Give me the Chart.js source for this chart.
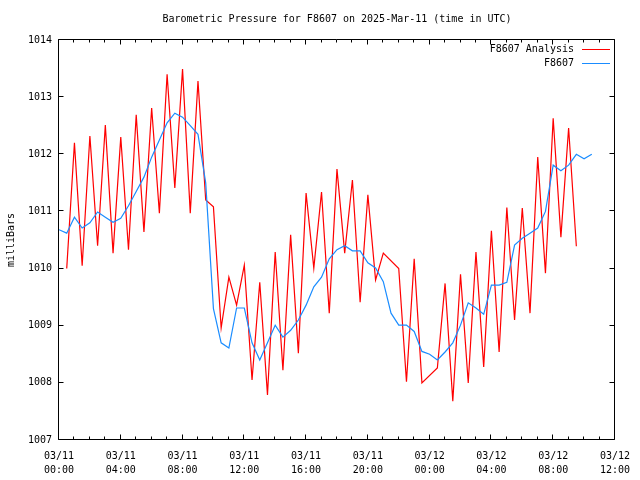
<!DOCTYPE html>
<html>
<head>
<meta charset="utf-8">
<script src="https://cdn.jsdelivr.net/npm/chart.js@4"></script>
<style>
html,body{margin:0;padding:0;background:#fff;}
#wrap{width:640px;height:480px;}
</style>
</head>
<body>
<div id="wrap"><canvas id="c" width="640" height="480"></canvas></div>
<script>
// Hours since 2025-03-11 00:00 UTC
const analysisTimes = [0.5,1,1.5,2,2.5,3,3.5,4,4.5,5,5.5,6,6.5,7,7.5,8,8.5,9,9.5,10,10.5,11,11.5,12,12.5,13,13.5,14,14.5,15,15.5,16,16.5,17,17.5,18,18.5,19,19.5,20,20.5,21,22,22.5,23,23.5,24.5,25,25.5,26,26.5,27,27.5,28,28.5,29,29.5,30,30.5,31,31.5,32,32.5,33,33.5];
const analysisValues = [1010.0,1012.2,1010.05,1012.32,1010.4,1012.51,1010.27,1012.3,1010.33,1012.69,1010.64,1012.81,1010.97,1013.40,1011.41,1013.49,1010.97,1013.28,1011.2,1011.08,1008.96,1009.85,1009.36,1010.06,1008.05,1009.76,1007.79,1010.29,1008.22,1010.59,1008.52,1011.32,1010.01,1011.34,1009.22,1011.74,1010.27,1011.55,1009.41,1011.29,1009.8,1010.27,1010.0,1008.02,1010.17,1008.0,1008.26,1009.74,1007.68,1009.9,1008.0,1010.29,1008.28,1010.66,1008.54,1011.07,1009.1,1011.06,1009.22,1011.95,1009.92,1012.63,1010.55,1012.46,1010.39];
const stationTimes = [0,0.5,1,1.5,2,2.5,3,3.5,4,4.5,5,5.5,6,6.5,7,7.5,8,8.5,9,9.5,10,10.5,11,11.5,12,12.5,13,13.5,14,14.5,15,15.5,16,16.5,17,17.5,18,18.5,19,19.5,20,20.5,21,21.5,22,22.5,23,23.5,24,24.5,25,25.5,26,26.5,27,27.5,28,28.5,29,29.5,30,30.5,31,31.5,32,32.5,33,33.5,34,34.5];
const stationValues = [1010.68,1010.62,1010.9,1010.71,1010.8,1010.99,1010.9,1010.81,1010.88,1011.1,1011.35,1011.6,1011.95,1012.25,1012.55,1012.72,1012.65,1012.5,1012.35,1011.5,1009.3,1008.7,1008.61,1009.31,1009.31,1008.7,1008.4,1008.7,1009.01,1008.8,1008.92,1009.1,1009.36,1009.68,1009.85,1010.17,1010.33,1010.4,1010.31,1010.31,1010.1,1010.01,1009.77,1009.22,1009.01,1009.01,1008.9,1008.55,1008.5,1008.4,1008.54,1008.7,1009.01,1009.4,1009.31,1009.2,1009.71,1009.71,1009.76,1010.41,1010.53,1010.62,1010.71,1011.0,1011.81,1011.71,1011.81,1012.0,1011.92,1012.0];
const xTickLabels = [["03/11","00:00"],["03/11","04:00"],["03/11","08:00"],["03/11","12:00"],["03/11","16:00"],["03/11","20:00"],["03/12","00:00"],["03/12","04:00"],["03/12","08:00"],["03/12","12:00"]];
const yTickValues = [1007,1008,1009,1010,1011,1012,1013,1014];
const yTickLabels = ["1007","1008","1009","1010","1011","1012","1013","1014"];
const seriesNames = ["F8607 Analysis","F8607"];
const seriesColors = ["#ff0000","#1a8cff"];

const FONT = "DejaVu Sans Mono";

const framePlugin = {
  id: 'frame',
  beforeDatasetsDraw(chart) {
    const {ctx, chartArea: a, scales: {x, y}} = chart;
    ctx.save();
    ctx.strokeStyle = '#000';
    ctx.lineWidth = 1;
    const L = Math.round(a.left) - 0.5, R = Math.round(a.right) - 0.5;
    const T = Math.round(a.top) - 0.5, B = Math.round(a.bottom) - 0.5;
    ctx.beginPath();
    ctx.rect(L, T, R - L, B - T);
    for (let h = x.min; h <= x.max; h++) {
      const px = Math.round(x.getPixelForValue(h)) - 0.5;
      const len = (h % 4 === 0) ? 5 : 3;
      ctx.moveTo(px, B); ctx.lineTo(px, B - len);
      ctx.moveTo(px, T); ctx.lineTo(px, T + len);
    }
    yTickValues.forEach(v => {
      const py = Math.round(y.getPixelForValue(v)) - 0.5;
      ctx.moveTo(L, py); ctx.lineTo(L + 5, py);
      ctx.moveTo(R, py); ctx.lineTo(R - 5, py);
    });
    ctx.stroke();
    ctx.restore();
  },
  afterDatasetsDraw(chart) {
    const {ctx} = chart;
    ctx.save();
    ctx.font = '10px "' + FONT + '"';
    ctx.textAlign = 'right';
    ctx.textBaseline = 'middle';
    ctx.fillStyle = '#000';
    const rows = [49, 63];
    seriesNames.forEach((n, i) => {
      ctx.fillText(n, 574, rows[i]);
      ctx.strokeStyle = seriesColors[i];
      ctx.lineWidth = 1;
      ctx.beginPath();
      ctx.moveTo(582, rows[i] + 0.5);
      ctx.lineTo(610, rows[i] + 0.5);
      ctx.stroke();
    });
    ctx.restore();
  }
};

new Chart(document.getElementById('c'), {
  type: 'line',
  data: {
    datasets: [
      {
        label: seriesNames[0],
        data: analysisTimes.map((t, i) => ({x: t, y: analysisValues[i]})),
        borderColor: seriesColors[0],
        borderWidth: 1.2,
        pointRadius: 0,
        tension: 0,
        fill: false,
        order: 2
      },
      {
        label: seriesNames[1],
        data: stationTimes.map((t, i) => ({x: t, y: stationValues[i]})),
        borderColor: seriesColors[1],
        borderWidth: 1.2,
        pointRadius: 0,
        tension: 0,
        fill: false,
        order: 1
      }
    ]
  },
  options: {
    responsive: false,
    animation: false,
    layout: {padding: {left: 0, right: 19, top: 0, bottom: 0}},
    plugins: {
      legend: {display: false},
      tooltip: {enabled: false},
      title: {
        display: true,
        text: 'Barometric Pressure for F8607 on 2025-Mar-11 (time in UTC)',
        color: '#000',
        fullSize: false,
        font: {family: FONT, size: 10, weight: 'normal', lineHeight: 1.2},
        padding: {top: 13, bottom: 15}
      }
    },
    scales: {
      x: {
        type: 'linear',
        min: 0,
        max: 36,
        grid: {display: false, drawTicks: false},
        border: {display: false},
        afterFit: s => { s.height = 40; },
        afterBuildTicks: s => { s.ticks = xTickLabels.map((_, i) => ({value: i * 4})); },
        ticks: {
          callback: (v, i) => xTickLabels[i],
          color: '#000',
          padding: 10,
          maxRotation: 0,
          autoSkip: false,
          font: {family: FONT, size: 10, lineHeight: 1.35}
        }
      },
      y: {
        min: 1007,
        max: 1014,
        grid: {display: false, drawTicks: false},
        border: {display: false},
        afterFit: s => { s.width = 59; },
        afterBuildTicks: s => { s.ticks = yTickValues.map(v => ({value: v})); },
        ticks: {
          callback: (v, i) => yTickLabels[i],
          color: '#000',
          padding: 7,
          font: {family: FONT, size: 10}
        },
        title: {
          display: true,
          text: 'milliBars',
          color: '#000',
          font: {family: FONT, size: 10},
          padding: {top: 5, bottom: 0}
        }
      }
    }
  },
  plugins: [framePlugin]
});
</script>
</body>
</html>
